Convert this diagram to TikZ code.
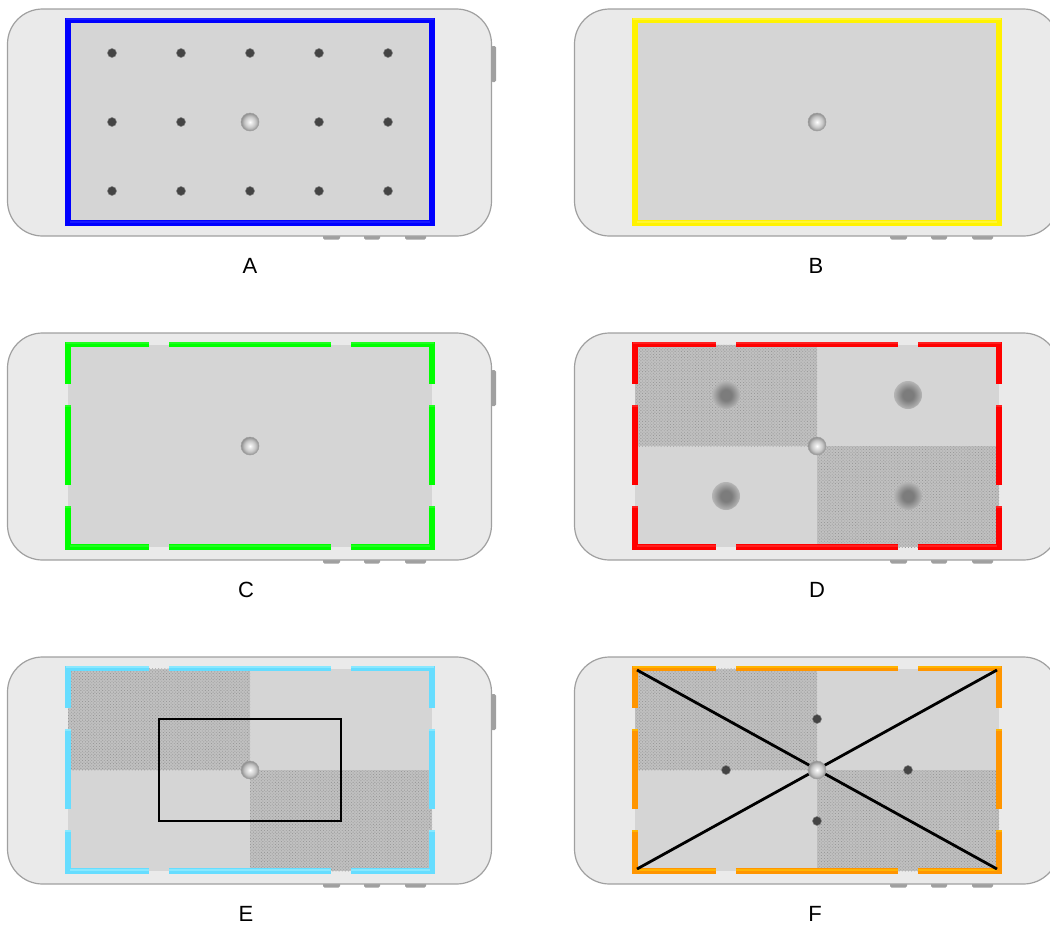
\documentclass[tikz,border=0pt]{standalone}
\usepackage{fontspec}
\setmainfont{Liberation Sans}
\usetikzlibrary{patterns.meta}
\definecolor{bodygray}{HTML}{EAEAEA}
\definecolor{screengray}{HTML}{D5D5D5}
\definecolor{edgegray}{HTML}{A0A0A0}
\definecolor{dotgray}{HTML}{444444}
\definecolor{softcore}{HTML}{7C7C7C}
\definecolor{softrim}{HTML}{B6B6B6}
\definecolor{ballmid}{HTML}{C4C4C4}
\definecolor{ballrim}{HTML}{8E8E8E}
\definecolor{cyanline}{HTML}{66DDFF}
\definecolor{cyanglint}{HTML}{88E8FF}
\definecolor{orangeline}{HTML}{FF9500}
\definecolor{orangeglint}{HTML}{FFB400}
\pgfdeclareradialshading{softshade}{\pgfpoint{0bp}{0bp}}{color(0bp)=(softcore); color(10bp)=(softcore); color(25bp)=(softrim); color(50bp)=(softrim)}
\pgfdeclareradialshading{ballshade}{\pgfpoint{0bp}{0bp}}{color(0bp)=(white); color(5bp)=(white!92!black); color(16bp)=(ballmid); color(25bp)=(ballrim); color(50bp)=(ballrim)}
\tikzset{
  phonebody/.style={draw=edgegray, fill=bodygray, line width=1.2pt, rounded corners=35pt},
  phonebtn/.style={fill=edgegray, rounded corners=1.5pt},
  screen/.style={fill=screengray},
  frame/.style={line width=5.5pt},
  glint/.style={line width=2pt},
  ditherbox/.style={pattern={Dots[distance=2.2pt, radius=0.6pt, angle=45]}, pattern color=gray!80},
  griddot/.style={circle, draw=gray, line width=0.5pt, fill=dotgray, minimum size=9pt, inner sep=0pt},
  softdot/.style={circle, minimum size=28pt, inner sep=0pt, shading=softshade},
  ball/.style={circle, draw=edgegray, line width=0.5pt, minimum size=18pt, inner sep=0pt, shading=ballshade},
  blackline/.style={black, line width=2.8pt},
  boxline/.style={draw=black, line width=2.9pt},
  panellabel/.style={font=\fontsize{22}{24}\selectfont},
}
% one phone, drawn around its top left corner
\newcommand{\phone}[1]{
  \begin{scope}[shift={(#1)}]
    \fill[phonebtn] (491,46) rectangle (496,82);
    \fill[phonebtn] (323,232) rectangle (340,239.5);
    \fill[phonebtn] (364,232) rectangle (380,239.5);
    \fill[phonebtn] (405,232) rectangle (426,239.5);
    \draw[phonebody] (7.5,9) rectangle (491.5,236);
    \fill[screen] (68,20.5) rectangle (432,223);
  \end{scope}
}
% the frame with its gaps, then the lighter streak along its long sides
\newcommand{\dashframe}[3]{
  \begin{scope}[shift={(#1)}]
    \draw[frame,#2] (149,20.5) -- (68,20.5) -- (68,60);
    \draw[frame,#2] (169,20.5) -- (331,20.5);
    \draw[frame,#2] (351,20.5) -- (432,20.5) -- (432,60);
    \draw[frame,#2] (68,81) -- (68,161);
    \draw[frame,#2] (432,81) -- (432,161);
    \draw[frame,#2] (68,182) -- (68,223) -- (149,223);
    \draw[frame,#2] (169,223) -- (331,223);
    \draw[frame,#2] (432,182) -- (432,223) -- (351,223);
    \draw[glint,#3] (66,19) -- (149,19);
    \draw[glint,#3] (169,19) -- (331,19);
    \draw[glint,#3] (351,19) -- (434,19);
    \draw[glint,#3] (70,221.5) -- (149,221.5);
    \draw[glint,#3] (169,221.5) -- (331,221.5);
    \draw[glint,#3] (351,221.5) -- (430,221.5);
    \foreach \tipx in {68,432}
      \foreach \tipy in {81,182}
        \draw[glint,#3] (\tipx-2.75,\tipy+1) -- (\tipx+2.75,\tipy+1);
  \end{scope}
}
% dark quarters of the screen
\newcommand{\dither}[1]{
  \begin{scope}[shift={(#1)}]
    \fill[black!10!screengray] (68,20.5) rectangle (250,122);
    \fill[black!10!screengray] (250,122) rectangle (432,223);
    \fill[ditherbox] (68,20.5) rectangle (250,122);
    \fill[ditherbox] (250,122) rectangle (432,223);
  \end{scope}
}
\begin{document}
\begin{tikzpicture}[x=1pt, y=-1pt]
  \useasboundingbox (0,0) rectangle (1050,927);
  \clip (0,0) rectangle (1050,927);
  % A
  \phone{0,0}
  \draw[frame, blue] (68,20.5) rectangle (432,223);
  \draw[glint, blue!90!white] (70,221.5) -- (430,221.5);
  \draw[glint, blue!90!white] (66,19) -- (434,19);
  \foreach \i in {0,...,4}
    \foreach \j in {0,1,2}
      \node[griddot] (a\i\j) at (112+69*\i,53+69*\j) {};
  \node[ball] (ballA) at (250,122) {};
  \node[panellabel] (labelA) at (250,266) {A};
  % B
  \phone{567,0}
  \draw[frame, yellow] (635,20.5) rectangle (999,223);
  \draw[glint, yellow!80!white] (637,221.5) -- (997,221.5);
  \draw[glint, yellow!80!white] (633,19) -- (1001,19);
  \node[ball] (ballB) at (817,122) {};
  \node[panellabel] (labelB) at (816,266) {B};
  % C
  \phone{0,324}
  \dashframe{0,324}{green}{green!88!white}
  \node[ball] (ballC) at (250,446) {};
  \node[panellabel] (labelC) at (246,590) {C};
  % D
  \phone{567,324}
  \dither{567,324}
  \dashframe{567,324}{red}{red!88!white}
  \node[softdot] (softA) at (726,395) {};
  \node[softdot] (softB) at (908,395) {};
  \node[softdot] (softC) at (726,496) {};
  \node[softdot] (softD) at (908,496) {};
  \node[ball] (ballD) at (817,446) {};
  \node[panellabel] (labelD) at (817,590) {D};
  % E
  \phone{0,648}
  \dither{0,648}
  \dashframe{0,648}{cyanline}{cyanglint}
  \node[boxline, minimum width=182pt, minimum height=102pt, inner sep=0pt, outer sep=0pt] (boxE) at (250,770) {};
  \node[ball] (ballE) at (250,770) {};
  \node[panellabel] (labelE) at (246,914) {E};
  % F
  \phone{567,648}
  \dither{567,648}
  \dashframe{567,648}{orangeline}{orangeglint}
  \coordinate (tl) at (637,670);
  \coordinate (tr) at (997,670);
  \coordinate (bl) at (637,869);
  \coordinate (br) at (997,869);
  \draw[blackline] (tl) -- (br);
  \draw[blackline] (tr) -- (bl);
  \node[griddot] (dotN) at (817,719) {};
  \node[griddot] (dotW) at (726,770) {};
  \node[griddot] (dotE) at (908,770) {};
  \node[griddot] (dotS) at (817,821) {};
  \node[ball] (ballF) at (817,770) {};
  \node[panellabel] (labelF) at (815,914) {F};
\end{tikzpicture}
\end{document}
